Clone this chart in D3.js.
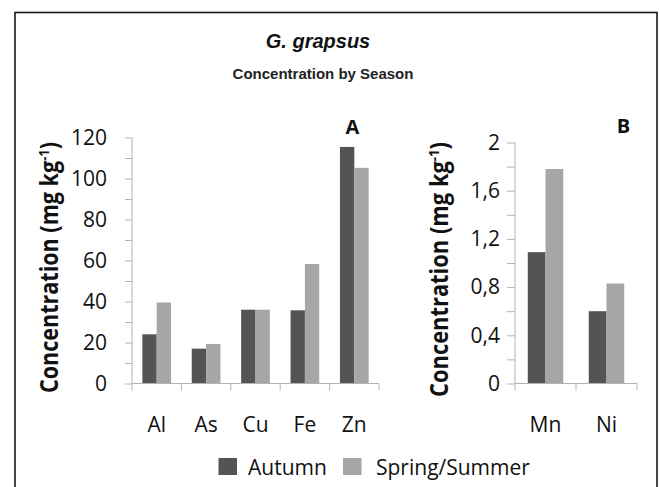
<!DOCTYPE html>
<html>
<head>
<meta charset="utf-8">
<script src="https://cdn.jsdelivr.net/npm/d3@7"></script>
<style>
  html, body { margin: 0; padding: 0; background: #fff; }
  svg { display: block; }
</style>
</head>
<body>
<svg id="chart" width="659" height="487"></svg>
<script>
// ---- data ----
const seriesNames = ["Autumn", "Spring/Summer"];
const categoriesA = ["Al", "As", "Cu", "Fe", "Zn"];
const autumnA = [24, 17, 36, 35.7, 115.4];
const springA = [39.5, 19.3, 36, 58.3, 105.2];
const categoriesB = ["Mn", "Ni"];
const autumnB = [1.09, 0.60];
const springB = [1.78, 0.83];
const ticksA = [0, 10, 20, 30, 40, 50, 60, 70, 80, 90, 100, 110, 120];
const ticksB = [0, 0.2, 0.4, 0.6, 0.8, 1.0, 1.2, 1.4, 1.6, 1.8, 2.0];
const labelTicksA = [0, 20, 40, 60, 80, 100, 120];
const labelTicksB = [0, 0.4, 0.8, 1.2, 1.6, 2.0];

const colors = ["#545454", "#a6a6a6"];
const axisColor = "#b3b3b3";
const fontBody = "'Open Sans', 'DejaVu Sans', sans-serif";

const svg = d3.select("#chart");

// frame
svg.append("rect")
  .attr("x", 15).attr("y", 12.5)
  .attr("width", 642).attr("height", 520)
  .attr("fill", "none").attr("stroke", "#1a1a1a").attr("stroke-width", 1.6);

// titles
svg.append("text")
  .attr("x", 318).attr("y", 48)
  .attr("text-anchor", "middle")
  .attr("font-family", "'Liberation Sans', Arial, sans-serif")
  .attr("font-weight", "bold").attr("font-style", "italic")
  .attr("font-size", 20).attr("fill", "#111")
  .text("G. grapsus");
svg.append("text")
  .attr("x", 323).attr("y", 79)
  .attr("text-anchor", "middle")
  .attr("font-family", "'Liberation Sans', Arial, sans-serif")
  .attr("font-weight", "bold")
  .attr("font-size", 15).attr("fill", "#222")
  .text("Concentration by Season");

function panel(opts) {
  const { cats, a, b, yMax, ticks, labelTicks, fmt, x0r, y0r, tickLen, tickPad, titleX, titleY, titleLen, letter, letterX, letterY } = opts;
  const x0 = d3.scaleBand().domain(cats).range(x0r).padding(0);
  const x1 = d3.scaleBand().domain(seriesNames).range([0, x0.bandwidth()]).paddingInner(0).paddingOuter(0.72);
  const y = d3.scaleLinear().domain([0, yMax]).range(y0r);
  const g = svg.append("g");

  // y axis
  const yAxis = d3.axisLeft(y)
    .tickValues(ticks)
    .tickSize(tickLen)
    .tickPadding(tickPad)
    .tickFormat(d => labelTicks.some(v => Math.abs(v - d) < 1e-9) ? fmt(d) : "");
  const ya = g.append("g").attr("transform", `translate(${x0r[0]},0)`).call(yAxis);
  ya.select(".domain").attr("stroke", axisColor).attr("d", `M0,${y0r[0]}V${y0r[1]}`);
  ya.selectAll(".tick line").attr("stroke", axisColor);
  ya.selectAll(".tick text")
    .attr("font-family", fontBody).attr("font-size", 21).attr("fill", "#111");

  // bars
  const rows = cats.map((c, i) => ({ cat: c, vals: [a[i], b[i]] }));
  g.append("g").selectAll("g").data(rows).join("g")
    .attr("transform", d => `translate(${x0(d.cat)},0)`)
    .selectAll("rect").data(d => d.vals.map((v, k) => ({ k, v })))
    .join("rect")
    .attr("x", d => x1(seriesNames[d.k]))
    .attr("width", x1.bandwidth())
    .attr("y", d => y(d.v))
    .attr("height", d => y(0) - y(d.v))
    .attr("fill", d => colors[d.k]);

  // x axis (category boundaries as ticks)
  const xa = d3.axisBottom(x0).tickSize(0).tickPadding(0);
  const xg = g.append("g").attr("transform", `translate(0,${y0r[0]})`).call(xa);
  xg.select(".domain").remove();
  xg.selectAll(".tick text").remove();
  g.append("line")
    .attr("x1", x0r[0]).attr("x2", x0r[1])
    .attr("y1", y0r[0]).attr("y2", y0r[0])
    .attr("stroke", axisColor);
  const bounds = cats.map(c => x0(c)).concat([x0r[1]]);
  g.append("g").selectAll("line").data(bounds).join("line")
    .attr("x1", d => d).attr("x2", d => d)
    .attr("y1", y0r[0]).attr("y2", y0r[0] + 7)
    .attr("stroke", axisColor);
  g.append("g").selectAll("text").data(cats).join("text")
    .attr("x", d => x0(d) + x0.bandwidth() / 2)
    .attr("y", 432)
    .attr("text-anchor", "middle")
    .attr("font-family", fontBody).attr("font-size", 21).attr("fill", "#111")
    .text(d => d);

  // y title
  const t = g.append("text")
    .attr("transform", `translate(${titleX},${titleY}) rotate(-90)`)
    .attr("text-anchor", "middle")
    .attr("font-family", fontBody).attr("font-weight", "bold")
    .attr("font-size", 25).attr("fill", "#111")
    .attr("textLength", titleLen).attr("lengthAdjust", "spacingAndGlyphs");
  t.append("tspan").text("Concentration (mg kg");
  t.append("tspan").attr("font-size", 15).attr("dy", -9).text("-1");
  t.append("tspan").attr("dy", 9).text(")");

  // panel letter
  g.append("text")
    .attr("x", letterX).attr("y", letterY)
    .attr("text-anchor", "middle")
    .attr("font-family", fontBody).attr("font-weight", "bold")
    .attr("font-size", 20).attr("fill", "#111")
    .text(letter);
}

panel({
  cats: categoriesA, a: autumnA, b: springA, yMax: 120,
  ticks: ticksA, labelTicks: labelTicksA, fmt: d => String(d),
  x0r: [132, 379], y0r: [383.5, 137.5], tickLen: 7, tickPad: 18,
  titleX: 58, titleY: 267.5, titleLen: 251,
  letter: "A", letterX: 352.5, letterY: 134
});

panel({
  cats: categoriesB, a: autumnB, b: springB, yMax: 2,
  ticks: ticksB, labelTicks: labelTicksB,
  fmt: d => (Math.abs(d - Math.round(d)) < 1e-9 ? String(Math.round(d)) : d.toFixed(1).replace(".", ",")),
  x0r: [515, 637], y0r: [383.5, 142.5], tickLen: 8, tickPad: 7,
  titleX: 448, titleY: 269.5, titleLen: 255,
  letter: "B", letterX: 623.5, letterY: 133
});

// legend
const legend = svg.append("g");
const legendItems = [
  { name: seriesNames[0], sx: 218.5, tx: 248 },
  { name: seriesNames[1], sx: 343, tx: 376 }
];
legend.selectAll("rect").data(legendItems).join("rect")
  .attr("x", d => d.sx).attr("y", 458)
  .attr("width", 18.5).attr("height", 17)
  .attr("fill", (d, i) => colors[i]);
legend.selectAll("text").data(legendItems).join("text")
  .attr("x", d => d.tx).attr("y", 475)
  .attr("font-family", fontBody).attr("font-size", 21).attr("fill", "#111")
  .text(d => d.name);
</script>
</body>
</html>
